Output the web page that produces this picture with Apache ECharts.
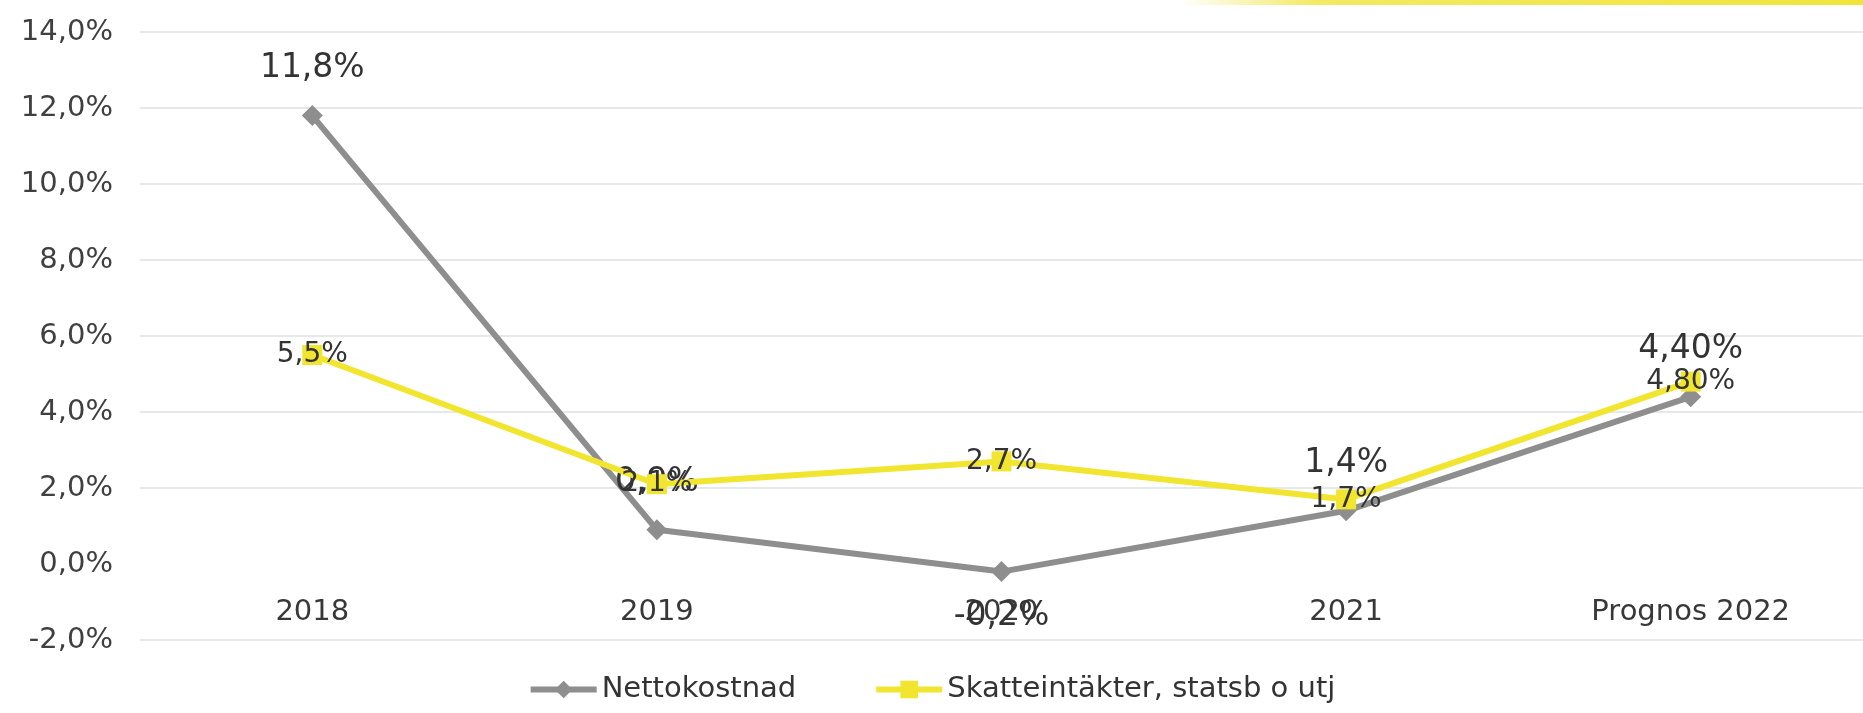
<!DOCTYPE html>
<html>
<head>
<meta charset="utf-8">
<script src="https://cdn.jsdelivr.net/npm/echarts@6/dist/echarts.min.js"></script>
<style>
  html, body { margin: 0; padding: 0; background: #ffffff; }
  #chart { width: 1863px; height: 713px; }
</style>
</head>
<body>
<div id="chart"></div>
<script>
  // kategorier och värden (procent)
  const years = ['2018', '2019', '2020', '2021', 'Prognos 2022'];
  const nettokostnad = [11.8, 0.9, -0.2, 1.4, 4.4];
  const skatteintakter = [5.5, 2.1, 2.7, 1.7, 4.8];
  // etiketter som de står i diagrammet
  const nettoLabels = ['11,8%', '0,9%', '-0,2%', '1,4%', '4,40%'];
  const skattLabels = ['5,5%', '2,1%', '2,7%', '1,7%', '4,80%'];
  const yTicks = [-2, 0, 2, 4, 6, 8, 10, 12, 14];

  const font = 'DejaVu Sans';
  const grid = '#e6e9ec';
  const gray = '#8e8e8e';
  const yellow = '#f2e530';

  let chart = echarts.init(document.getElementById('chart'));

  let option = {
    backgroundColor: '#ffffff',
    animation: false,
    textStyle: { fontFamily: font },
    grid: { left: 140, right: 0, top: 32, bottom: 73 },
    graphic: [{
      // gul kantlinje i överkant
      type: 'rect',
      shape: { x: 1180, y: 0, width: 683, height: 5 },
      style: {
        fill: new echarts.graphic.LinearGradient(0, 0, 1, 0, [
          { offset: 0, color: 'rgba(240,228,60,0)' },
          { offset: 0.2, color: 'rgba(240,228,60,0.8)' },
          { offset: 1, color: 'rgba(240,228,60,1)' }
        ])
      },
      silent: true
    }],
    xAxis: {
      type: 'category',
      data: years,
      boundaryGap: true,
      // etiketterna sitter under nollinjen, två steg (76px) ovanför gridens botten
      offset: -76,
      axisLine: { show: false },
      axisTick: { show: false },
      axisLabel: { color: '#383838', fontSize: 29, margin: 34, fontFamily: font }
    },
    yAxis: {
      type: 'value',
      min: yTicks[0],
      max: yTicks[yTicks.length - 1],
      interval: 2,
      axisLine: { show: false },
      axisTick: { show: false },
      axisLabel: {
        color: '#404040', fontSize: 29, margin: 27, fontFamily: font,
        formatter: v => v.toFixed(1).replace('.', ',') + '%'
      },
      splitLine: {
        lineStyle: {
          width: 2,
          // nollinjen syns inte i originalet
          color: yTicks.map(t => t === 0 ? 'transparent' : grid)
        }
      }
    },
    legend: {
      bottom: 4,
      left: 'center',
      itemWidth: 66,
      itemHeight: 22,
      itemGap: 77,
      lineStyle: { width: 6 },
      textStyle: { color: '#333333', fontSize: 29, fontFamily: font },
      data: ['Nettokostnad', 'Skatteintäkter, statsb o utj']
    },
    series: [
      {
        name: 'Nettokostnad',
        type: 'line',
        data: nettokostnad.map((v, i) =>
          // -0,2% ligger under punkten
          v < 0 ? { value: v, label: { position: 'bottom', distance: 18 } } : v
        ),
        symbol: 'diamond',
        symbolSize: 21,
        color: gray,
        lineStyle: { width: 6, color: gray },
        itemStyle: { color: gray },
        label: {
          show: true,
          position: 'top',
          distance: 20,
          fontSize: 33,
          color: '#333333',
          fontFamily: font,
          formatter: p => nettoLabels[p.dataIndex]
        },
        labelLayout: { hideOverlap: false },
        z: 2
      },
      {
        name: 'Skatteintäkter, statsb o utj',
        type: 'line',
        data: skatteintakter,
        symbol: 'rect',
        symbolSize: 20,
        color: yellow,
        lineStyle: { width: 6, color: yellow },
        itemStyle: { color: yellow },
        label: {
          show: true,
          position: 'inside',
          fontSize: 28,
          color: '#333333',
          fontFamily: font,
          formatter: p => skattLabels[p.dataIndex]
        },
        z: 3
      }
    ]
  };

  chart.setOption(option, true);
  window.addEventListener('resize', function () { chart.resize(); });
</script>
</body>
</html>
